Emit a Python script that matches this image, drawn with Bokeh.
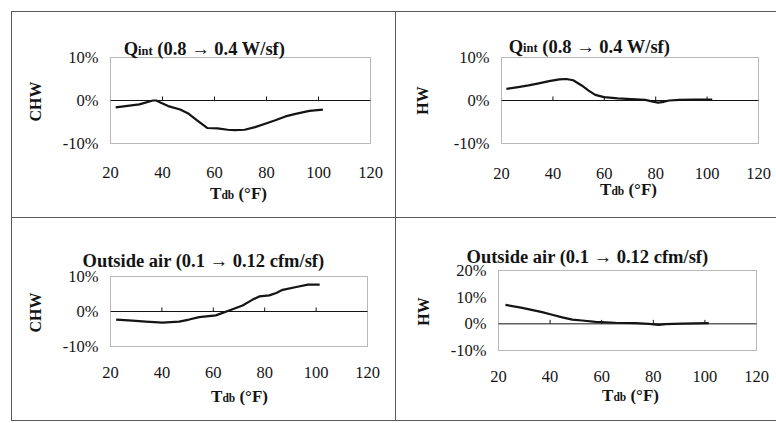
import math
from bokeh.plotting import figure
from bokeh.models import Range1d, FixedTicker, Label, Spacer, BoxAnnotation
from bokeh.layouts import column, row
from bokeh.embed import file_html
from bokeh.resources import INLINE

# ---------------- data ----------------
TDB_TICKS = [20, 40, 60, 80, 100, 120]
PCT_TICKS_A = [-10, 0, 10]
PCT_LABELS_A = ["-10%", "0%", "10%"]
PCT_TICKS_B = [-10, 0, 10, 20]
PCT_LABELS_B = ["-10%", "0%", "10%", "20%"]

TITLE_QINT = ("Q", "int", " (0.8 \u2192 0.4 W/sf)")
TITLE_OA = ("Outside air (0.1 \u2192 0.12 cfm/sf)",)
XLABEL = ("T", "db", " (\u00b0F)")

# Qint -> CHW
qint_chw_tdb = [22, 31.1, 36.3, 37.6, 39.6, 42.2, 46.8, 50.1, 53.3, 57.3, 61.2,
                65.1, 67.7, 71.6, 75.6, 79.5, 83.4, 87.3, 91.2, 96.5, 101.7]
qint_chw_pct = [-1.6, -0.9, 0.0, 0.0, -0.6, -1.3, -2.1, -3.1, -4.6, -6.4, -6.5,
                -6.8, -6.9, -6.8, -6.2, -5.4, -4.6, -3.7, -3.1, -2.4, -2.1]

# Qint -> HW
qint_hw_tdb = [21.9, 26.5, 30.5, 34.5, 38.5, 42.5, 45.2, 47.9, 51.2, 53.9, 56.5,
               59.9, 65.2, 70.5, 75.9, 78.5, 80.9, 83.2, 85.2, 89.2, 94.5, 102.0]
qint_hw_pct = [2.7, 3.1, 3.5, 4.0, 4.5, 4.9, 5.0, 4.7, 3.5, 2.3, 1.3,
               0.8, 0.5, 0.3, 0.15, -0.2, -0.5, -0.3, 0.0, 0.15, 0.2, 0.2]

# Outside air -> CHW
oa_chw_tdb = [22.2, 28.5, 33.7, 40.2, 46.7, 50.6, 54.5, 61.0, 63.6, 66.2, 71.4,
              75.3, 77.9, 81.8, 84.5, 87.0, 92.3, 96.8, 101.4]
oa_chw_pct = [-2.3, -2.6, -2.9, -3.2, -2.9, -2.3, -1.6, -1.1, -0.4, 0.3, 1.7,
              3.4, 4.3, 4.6, 5.3, 6.2, 7.0, 7.7, 7.7]

# Outside air -> HW
oa_hw_tdb = [22.7, 29.2, 36.9, 40.8, 44.7, 48.6, 52.4, 57.6, 65.3, 73.1, 78.3,
             82.1, 84.7, 91.2, 101.5]
oa_hw_pct = [7.1, 6.0, 4.4, 3.4, 2.4, 1.6, 1.25, 0.75, 0.4, 0.25, 0.0,
             -0.4, -0.1, 0.1, 0.25]

# ---------------- style ----------------
SERIF = "Liberation Serif"
INK = "#141414"
RULE = "#5a5a5a"

# Times/Liberation Serif Bold advance widths (per 1000 em)
BW = {" ": 250, "(": 333, ")": 333, ".": 250, "/": 278, "\u2192": 1000, "\u00b0": 400,
      "Q": 778, "T": 667, "F": 611, "W": 1000, "O": 778,
      "a": 500, "b": 556, "c": 444, "d": 556, "e": 444, "f": 333, "i": 278,
      "m": 833, "n": 556, "r": 444, "s": 389, "t": 333, "u": 556}


def text_width(s, size):
    return sum(BW.get(ch, 500) for ch in s) * size / 1000.0


def compose(p, parts, cx, base_y):
    """parts: (text, size_px, dy). cx / base_y in screen px (frame = whole canvas,
    x from left, y from bottom)."""
    total = sum(text_width(t, s) for t, s, _ in parts)
    x = cx - total / 2.0
    for t, s, dy in parts:
        lead = len(t) - len(t.lstrip(" "))
        shown = t.lstrip(" ")
        x_text = x + text_width(" " * lead, s)
        p.add_layout(Label(x=x_text, y=base_y + dy, x_units="screen", y_units="screen",
                           text=shown, text_font=SERIF, text_font_size=f"{s}px",
                           text_font_style="bold", text_color=INK,
                           text_align="left", text_baseline="alphabetic"))
        x += text_width(t, s)


def make_panel(origin, size, box, yticks, ylabels, ylab, tdb, pct, title_parts,
               title_at, xlab_at, ylab_at, xstand):
    """origin: canvas top-left in page px; size: (w, h);
    box: plot-area (left, top, right, bottom) in page px;
    *_at: (x, y) page px for text anchors."""
    ox, oy = origin
    W, H = size
    bl, bt, br, bb = (box[0] - ox, box[1] - oy, box[2] - ox, box[3] - oy)
    x0, x1 = TDB_TICKS[0], TDB_TICKS[-1]
    y0, y1 = yticks[0], yticks[-1]
    sx = (br - bl) / (x1 - x0)
    sy = (bb - bt) / (y1 - y0)
    xr = Range1d(x0 - bl / sx, x1 + (W - br) / sx)
    yr = Range1d(y0 - (H - bb) / sy, y1 + bt / sy)

    p = figure(width=W, height=H, x_range=xr, y_range=yr,
               output_backend="svg", toolbar_location=None,
               min_border=0, min_border_left=0, min_border_right=0,
               min_border_top=0, min_border_bottom=0)
    p.grid.visible = False
    p.background_fill_color = "white"
    p.border_fill_color = "white"
    p.outline_line_color = None

    xa = p.xaxis[0]
    xa.fixed_location = y0
    xa.ticker = FixedTicker(ticks=TDB_TICKS)
    xa.axis_line_color = None
    xa.major_tick_out = 0
    xa.major_tick_in = 0
    xa.minor_tick_line_color = None
    xa.major_label_standoff = xstand
    xa.major_label_text_font = SERIF
    xa.major_label_text_font_size = "16.5px"
    xa.major_label_text_color = INK

    ya = p.yaxis[0]
    ya.fixed_location = x0
    ya.ticker = FixedTicker(ticks=yticks)
    ya.major_label_overrides = {t: l for t, l in zip(yticks, ylabels)}
    ya.axis_line_color = None
    ya.major_tick_out = 0
    ya.major_tick_in = 0
    ya.minor_tick_line_color = None
    ya.major_label_standoff = 12
    ya.major_label_text_font = SERIF
    ya.major_label_text_font_size = "16.5px"
    ya.major_label_text_color = INK

    # plot-area box
    p.add_layout(BoxAnnotation(left=x0, right=x1, bottom=y0, top=y1,
                               fill_color=None, line_color=INK, line_width=1))
    # horizontal axis crossing at 0 with upward tick marks
    p.segment(x0=[x0], x1=[x1], y0=[0], y1=[0], line_color=INK, line_width=1)
    inner = TDB_TICKS[1:-1]
    p.ray(x=inner, y=[0] * len(inner), length=4, length_units="screen",
          angle=math.pi / 2, line_color=INK, line_width=1)

    p.line(tdb, pct, line_color=INK, line_width=2.2, line_join="round")

    def scr(pt):
        return pt[0] - ox, H - (pt[1] - oy)

    if len(title_parts) == 3:
        parts = [(title_parts[0], 18.5, 0), (title_parts[1], 12.5, -1.5),
                 (title_parts[2], 18.5, 0)]
    else:
        parts = [(title_parts[0], 18.5, 0)]
    compose(p, parts, *scr(title_at))
    compose(p, [(XLABEL[0], 17, 0), (XLABEL[1], 11.5, -1.5), (XLABEL[2], 17, 0)],
            *scr(xlab_at))
    lx, ly = scr(ylab_at)
    p.add_layout(Label(x=lx, y=ly, x_units="screen", y_units="screen", text=ylab,
                       angle=math.pi / 2, text_font=SERIF, text_font_size="16px",
                       text_font_style="bold", text_color=INK,
                       text_align="center", text_baseline="middle"))
    return p


p1 = make_panel((12, 12), (383, 205), (110, 57, 370, 143), PCT_TICKS_A, PCT_LABELS_A,
                "CHW", qint_chw_tdb, qint_chw_pct, TITLE_QINT,
                (204, 48.5), (238, 193), (35, 101), 23)
p2 = make_panel((396, 12), (380, 205), (501, 57, 758, 143), PCT_TICKS_A, PCT_LABELS_A,
                "HW", qint_hw_tdb, qint_hw_pct, TITLE_QINT,
                (589, 46), (628, 189), (422, 100), 24)
p3 = make_panel((12, 218), (383, 202), (110, 276, 367, 346), PCT_TICKS_A, PCT_LABELS_A,
                "CHW", oa_chw_tdb, oa_chw_pct, TITLE_OA,
                (203, 260), (239, 396), (35, 312), 20)
p4 = make_panel((396, 218), (380, 202), (498, 270, 756, 350), PCT_TICKS_B, PCT_LABELS_B,
                "HW", oa_hw_tdb, oa_hw_pct, TITLE_OA,
                (587, 256), (630, 395), (423, 311), 20)


def hline(w):
    return Spacer(width=w, height=1, styles={"background-color": RULE})


def vline(h):
    return Spacer(width=1, height=h, styles={"background-color": RULE})


layout = column(
    Spacer(width=776, height=11),
    row(Spacer(width=11, height=1), hline(765)),
    row(Spacer(width=11, height=205), vline(205), p1, vline(205), p2),
    row(Spacer(width=11, height=1), hline(765)),
    row(Spacer(width=11, height=202), vline(202), p3, vline(202), p4),
    row(Spacer(width=11, height=1), hline(765)),
)

open("out.html", "w").write(file_html(layout, INLINE))
